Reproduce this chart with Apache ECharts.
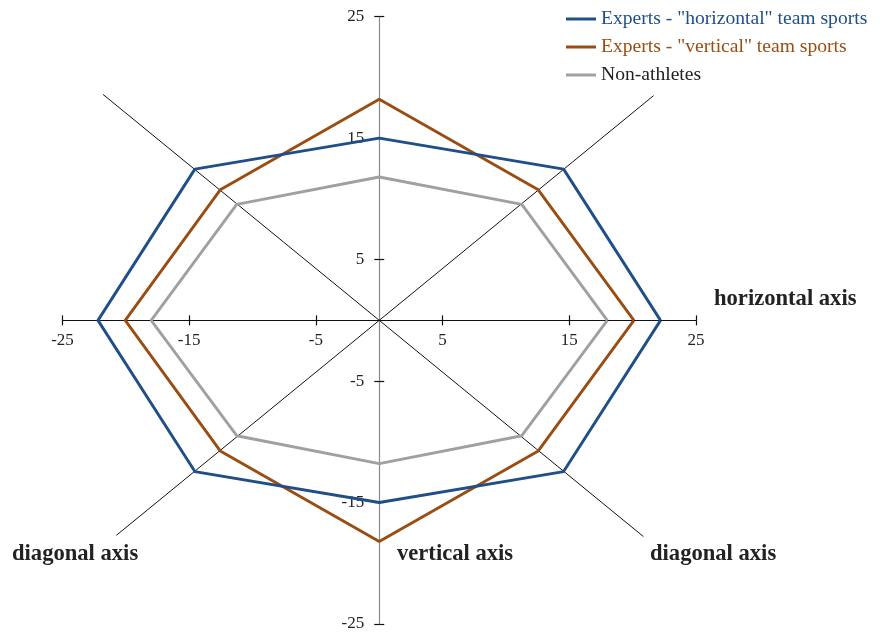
<!DOCTYPE html>
<html>
<head>
<meta charset="utf-8">
<script src="https://cdn.jsdelivr.net/npm/echarts@6/dist/echarts.min.js"></script>
<style>
  html, body { margin: 0; background: #fff; }
  #chart { width: 880px; height: 634px; }
</style>
</head>
<body>
<div id="chart"></div>
<script>
// series names (legend)
const seriesNames = ['Experts - "horizontal" team sports', 'Experts - "vertical" team sports', 'Non-athletes']
const seriesColors = ['#1f4e88', '#9a4d12', '#a0a0a0']
const legendTextColors = ['#1f4e88', '#9a4d12', '#222222']

// octagon points: right, up-right, up, up-left, left, down-left, down, down-right (closed)
const horizontalTeam = [[22.2, 0], [14.55, 12.45], [0, 15], [-14.55, 12.45], [-22.2, 0], [-14.55, -12.45], [0, -15], [14.55, -12.45], [22.2, 0]]
const verticalTeam = [[20.1, 0], [12.55, 10.75], [0, 18.2], [-12.55, 10.75], [-20.05, 0], [-12.55, -10.75], [0, -18.2], [12.55, -10.75], [20.1, 0]]
const nonAthletes = [[18, 0], [11.25, 9.55], [0, 11.8], [-11.25, 9.55], [-18, 0], [-11.25, -9.5], [0, -11.8], [11.25, -9.5], [18, 0]]

// diagonal guide lines through the origin
const diagonalA = [[-21.8, 18.6], [0, 0], [20.85, -17.8]]
const diagonalB = [[21.65, 18.5], [0, 0], [-20.75, -17.7]]

// axis range / ticks
const axisMin = -25
const axisMax = 25
const axisStep = 10

const FONT = '"Liberation Serif", "Times New Roman", serif'

// plot box (the axes cross in its middle)
const gridLeft = 62.5, gridWidth = 633.5, gridTop = 16.7, gridHeight = 607.3

const chart = echarts.init(document.getElementById('chart'))

// main axes are shifted inward to the origin, the "ghost" ones only add the
// opposite half of each tick so the ticks cross the line like in the original
function valueAxis(dim, main) {
  const lineColor = dim === 'x' ? '#111' : '#8a8a8a'
  const half = dim === 'x' ? gridHeight / 2 : gridWidth / 2
  return {
    type: 'value',
    position: dim === 'x' ? (main ? 'bottom' : 'top') : (main ? 'left' : 'right'),
    offset: -half,
    min: axisMin,
    max: axisMax,
    interval: axisStep,
    splitLine: { show: false },
    axisLine: { show: main, onZero: false, lineStyle: { color: lineColor, width: 1.2 } },
    axisTick: { show: true, length: 5, lineStyle: { color: '#111', width: 1.2 } },
    axisLabel: {
      show: main,
      margin: dim === 'x' ? 12 : 15,
      color: '#222',
      fontSize: 17,
      fontFamily: FONT,
    },
  }
}

const dataSets = [horizontalTeam, verticalTeam, nonAthletes]

chart.setOption({
  animation: false,
  grid: { left: gridLeft, width: gridWidth, top: gridTop, height: gridHeight, outerBoundsMode: 'none', containLabel: false },
  xAxis: [valueAxis('x', true), valueAxis('x', false)],
  yAxis: [valueAxis('y', true), valueAxis('y', false)],
  legend: {
    orient: 'vertical',
    left: 561,
    top: 4,
    itemWidth: 30,
    itemHeight: 3,
    itemGap: 8,
    icon: 'rect',
    data: seriesNames.map((name, i) => ({
      name: name,
      textStyle: { color: legendTextColors[i] },
    })),
    textStyle: { fontSize: 19.6, fontFamily: FONT },
  },
  graphic: [
    { type: 'text', left: 714, top: 288, style: { text: 'horizontal axis', font: 'bold 22.6px ' + FONT, fill: '#222' } },
    { type: 'text', left: 397, top: 543, style: { text: 'vertical axis', font: 'bold 22.6px ' + FONT, fill: '#222' } },
    { type: 'text', left: 12, top: 543, style: { text: 'diagonal axis', font: 'bold 22.6px ' + FONT, fill: '#222' } },
    { type: 'text', left: 650, top: 543, style: { text: 'diagonal axis', font: 'bold 22.6px ' + FONT, fill: '#222' } },
  ],
  series: [
    {
      type: 'line', data: diagonalA, showSymbol: false, silent: true, z: 1,
      lineStyle: { color: '#111', width: 1 },
    },
    {
      type: 'line', data: diagonalB, showSymbol: false, silent: true, z: 1,
      lineStyle: { color: '#111', width: 1 },
    },
    ...dataSets.map((d, i) => ({
      name: seriesNames[i],
      type: 'line',
      data: d,
      showSymbol: false,
      z: 4 - i,
      itemStyle: { color: seriesColors[i] },
      lineStyle: { color: seriesColors[i], width: 2.9 },
    })),
  ],
})
</script>
</body>
</html>
